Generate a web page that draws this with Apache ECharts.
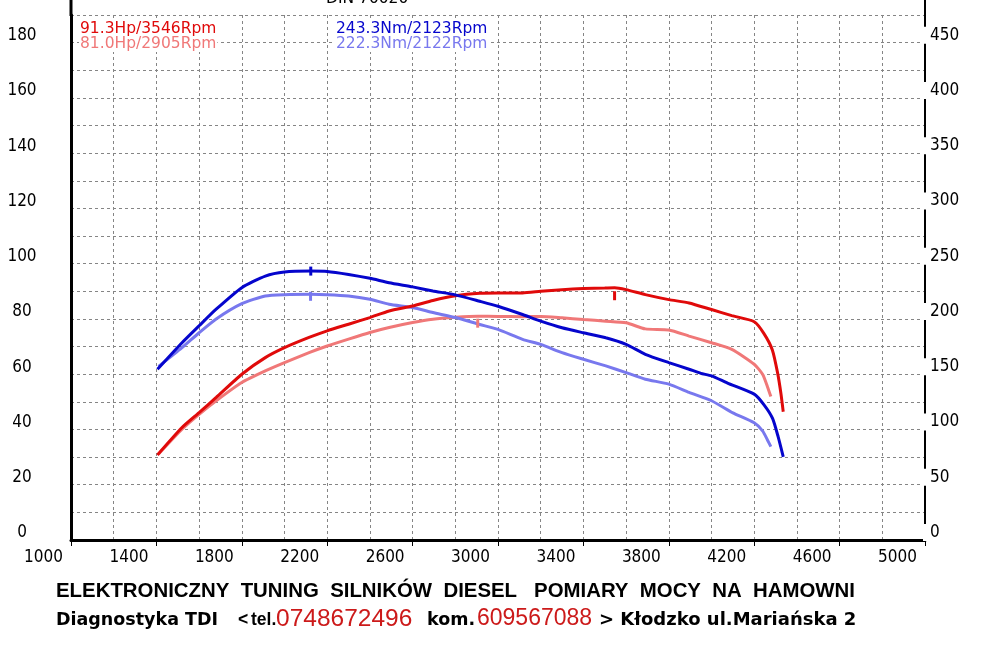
<!DOCTYPE html>
<html>
<head>
<meta charset="utf-8">
<title>Hamownia - wykres mocy</title>
<script src="https://cdn.jsdelivr.net/npm/echarts@6.0.0/dist/echarts.min.js"></script>
<style>
  html, body { margin:0; padding:0; background:#fff; }
  #chart { width:1006px; height:646px; }
</style>
</head>
<body>
<div id="chart"></div>
<script>

// --- data ---
// power after tuning (Hp)
var rpm_power_tuned = [1405,1520,1600,1680,1800,1910,2000,2115,2200,2300,2400,2490,2600,2695,2800,2915,3000,3115,3200,3300,3400,3500,3546,3600,3690,3800,3895,4000,4095,4200,4245,4285,4310,4325,4336];
var hp_tuned = [30.8,40.7,46.1,51.6,60.0,66.0,69.6,73.3,75.7,78.1,80.5,82.9,84.7,86.7,88.4,89.3,89.4,89.4,90.0,90.6,91.0,91.2,91.3,90.6,88.8,87.0,85.8,83.4,81.2,79.0,74.8,68.8,60.3,53.1,46.4];

// power stock (Hp)
var rpm_power_stock = [1410,1520,1600,1680,1800,1910,2000,2115,2200,2300,2400,2490,2600,2695,2800,2905,3000,3115,3200,3300,3400,3505,3600,3690,3800,3895,4000,4095,4200,4240,4262,4278];
var hp_stock = [31.1,40.1,45.5,50.4,57.0,61.2,64.2,67.8,70.2,72.7,75.1,76.9,78.7,79.9,80.6,81.0,80.9,80.8,80.9,80.4,79.8,79.2,78.6,76.4,76.0,73.8,71.4,69.0,63.6,59.9,55.5,51.9];

// torque after tuning (Nm)
var rpm_torque_tuned = [1405,1520,1600,1680,1800,1910,2000,2123,2200,2300,2400,2490,2600,2695,2800,2915,3000,3115,3200,3300,3400,3505,3600,3690,3800,3895,3950,4000,4075,4200,4246,4286,4312,4336];
var nm_tuned = [154.5,178.5,193.8,208.8,228.3,238.8,242.5,243.3,243.0,240.3,236.8,232.8,229.0,225.3,221.8,216.0,211.5,204.0,198.0,192.0,187.5,183.0,177.0,168.0,160.5,154.5,150.8,148.5,142.0,132.0,122.3,110.0,93.5,75.3];

// torque stock (Nm)
var rpm_torque_stock = [1410,1520,1600,1680,1800,1910,2000,2122,2200,2300,2400,2490,2600,2695,2800,2915,3000,3115,3200,3300,3400,3505,3600,3690,3800,3895,4000,4100,4200,4240,4262,4278];
var nm_stock = [157.0,174.0,187.5,200.0,213.8,220.8,222.0,222.3,222.0,220.8,217.8,213.3,210.3,205.8,201.3,195.0,190.5,181.5,177.0,169.5,163.5,157.5,151.5,145.5,141.0,133.5,126.0,115.0,106.0,98.5,90.5,84.5];

// axis ticks
var rpm_ticks = [1000,1400,1800,2200,2600,3000,3400,3800,4200,4600,5000];
var hp_ticks = [0,20,40,60,80,100,120,140,160,180];
var nm_ticks = [0,50,100,150,200,250,300,350,400,450];

var col_power_tuned = '#e00a0a';
var col_power_stock = '#f07878';
var col_torque_tuned = '#0505cc';
var col_torque_stock = '#7878ee';

function zip(xs, ys){
  var out = [];
  for (var i=0; i<xs.length; i++){
    out.push([xs[i], ys[i]]);
  }
  return out;
}

// peak value + rpm, for the texts in the corner
function peak(xs, ys){
  var best = 0;
  for (var i=1; i<ys.length; i++){
    if (ys[i] > ys[best]) best = i;
  }
  return {rpm: xs[best], val: ys[best]};
}

var grid_dash = {color:'#858585', width:1, type:[3,3]};
var axisFont = '"DejaVu Sans Condensed", "DejaVu Sans", sans-serif';
var noteFont = '15.5px "DejaVu Sans", Verdana, sans-serif';

var chart = echarts.init(document.getElementById('chart'), null, {renderer:'canvas'});

function lineSeries(name, data, color, axisIdx, markOffset){
  var pk = peak(data.map(function(d){return d[0]}), data.map(function(d){return d[1]}));
  return {
    name: name,
    type: 'line',
    yAxisIndex: axisIdx,
    data: data,
    showSymbol: false,
    smooth: 0.2,
    lineStyle: {color: color, width: 3},
    itemStyle: {color: color},
    markPoint: {
      symbol: 'rect',
      symbolSize: [3, 9],
      symbolOffset: [0, markOffset],
      label: {show: false},
      itemStyle: {color: color},
      data: [{coord: [pk.rpm, pk.val]}]
    }
  };
}

var pT = peak(rpm_power_tuned, hp_tuned);
var pS = peak(rpm_power_stock, hp_stock);
var tT = peak(rpm_torque_tuned, nm_tuned);
var tS = peak(rpm_torque_stock, nm_stock);

function note(txt, x, y, color){
  return {
    type: 'text', x: x, y: y, z: 10,
    style: {
      text: txt, fill: color, font: noteFont,
      align: 'left', verticalAlign: 'middle',
      backgroundColor: '#fff', padding: [0, 1, 0, 1]
    }
  };
}

function txt(s, x, y, color, font){
  return {
    type: 'text', x: x, y: y, z: 10,
    style: {text: s, fill: color, font: font, align: 'left', verticalAlign: 'middle'}
  };
}

var lineFont = 'bold 17.5px "DejaVu Sans", Verdana, sans-serif';
var telFont = 'bold 17.5px "Liberation Sans", Arial, sans-serif';
var red = '#cc1a1a';

var option = {
  animation: false,
  backgroundColor: '#fff',
  grid: {left: 71, right: 81, top: 15, bottom: 106},
  xAxis: {
    type: 'value', min: 1000, max: 5000, interval: 400,
    axisLine: {show: true, onZero: false, lineStyle: {color:'#000', width:3}},
    axisTick: {show: true, length: 6, lineStyle: {color:'#000', width:1}},
    minorTick: {show: false, splitNumber: 2},
    splitLine: {show: true, lineStyle: grid_dash},
    minorSplitLine: {show: true, lineStyle: grid_dash},
    axisLabel: {
      color: '#000', fontSize: 17, fontFamily: axisFont,
      align: 'right', verticalAlign: 'top', margin: 9, padding: [0, 8, 0, 0],
      formatter: function(v){ return rpm_ticks.indexOf(v) >= 0 ? String(v) : ''; }
    }
  },
  yAxis: [{
    type: 'value', min: 0, max: 190, interval: 10, position: 'left',
    axisLine: {show: true, onZero: false, lineStyle: {color:'#000', width:3}},
    axisTick: {show: false},
    splitLine: {show: true, lineStyle: grid_dash},
    axisLabel: {
      color: '#000', fontSize: 17, fontFamily: axisFont,
      align: 'center', verticalAlign: 'bottom', lineHeight: 14, margin: 49,
      formatter: function(v){ return hp_ticks.indexOf(v) >= 0 ? String(v) : ''; }
    }
  }, {
    type: 'value', min: 0, max: 475, interval: 25, position: 'right',
    axisLine: {show: true, onZero: false, lineStyle: {color:'#000', width:2}},
    axisTick: {show: false},
    splitLine: {show: false},
    axisLabel: {
      margin: -2, align: 'left', verticalAlign: 'bottom',
      formatter: function(v){ return nm_ticks.indexOf(v) >= 0 ? '{b|' + v + '}' : ''; },
      rich: {
        b: {color:'#000', fontSize:17, fontFamily: axisFont, lineHeight: 15,
            backgroundColor:'#fff', padding:[0, 2, 0, 7]}
      }
    }
  }],
  series: [
    lineSeries('Moc seryjna', zip(rpm_power_stock, hp_stock), col_power_stock, 0, 7),
    lineSeries('Moment seryjny', zip(rpm_torque_stock, nm_stock), col_torque_stock, 1, 2),
    lineSeries('Moc po tuningu', zip(rpm_power_tuned, hp_tuned), col_power_tuned, 0, 8),
    lineSeries('Moment po tuningu', zip(rpm_torque_tuned, nm_tuned), col_torque_tuned, 1, 0)
  ],
  graphic: [
    // axis lines run to the top edge of the sheet
    {type:'line', shape:{x1:71, y1:0, x2:71, y2:16}, style:{stroke:'#000', lineWidth:3}},
    {type:'line', shape:{x1:925, y1:0, x2:925, y2:16}, style:{stroke:'#000', lineWidth:2}},
    txt('DIN 70020', 326, -1, '#000', noteFont),
    note(pT.val.toFixed(1) + 'Hp/' + pT.rpm + 'Rpm', 79, 29, col_power_tuned),
    note(tT.val.toFixed(1) + 'Nm/' + tT.rpm + 'Rpm', 335, 29, col_torque_tuned),
    note(pS.val.toFixed(1) + 'Hp/' + pS.rpm + 'Rpm', 79, 44, col_power_stock),
    note(tS.val.toFixed(1) + 'Nm/' + tS.rpm + 'Rpm', 335, 44, col_torque_stock),
    // footer
    txt('ELEKTRONICZNY  TUNING  SILNIKÓW  DIESEL   POMIARY  MOCY  NA  HAMOWNI', 56, 591, '#000',
        'bold 20.4px "Liberation Sans", Arial, sans-serif'),
    txt('Diagnostyka TDI', 56, 620, '#000', lineFont),
    txt('<', 238, 620, '#000', telFont),
    txt('tel.', 251, 620, '#000', telFont),
    txt('0748672496', 276, 619, red, '24.5px "Liberation Sans", Arial, sans-serif'),
    txt('kom.', 427, 620, '#000', lineFont),
    txt('609567088', 477, 619, red, '23px "Liberation Sans", Arial, sans-serif'),
    txt('> Kłodzko ul.Mariańska 2', 599, 620, '#000', 'bold 18px "DejaVu Sans", Verdana, sans-serif')
  ]
};

chart.setOption(option, true);
window.addEventListener('resize', function(){ chart.resize(); });

</script>
</body>
</html>
